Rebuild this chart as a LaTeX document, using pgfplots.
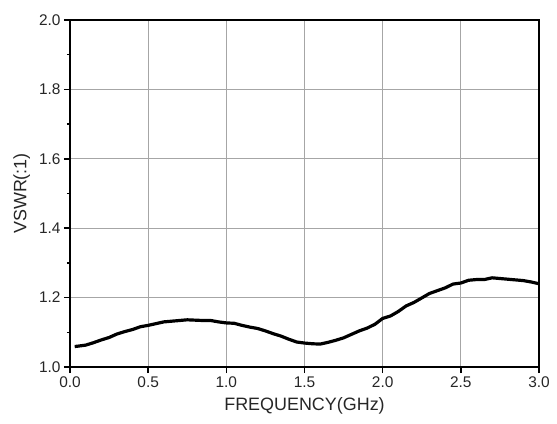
\documentclass[border=0pt]{standalone}
\usepackage{fontspec}
\setmainfont{Liberation Sans}
\usepackage{pgfplots}
\pgfplotsset{compat=1.18}

\begin{document}
\begin{tikzpicture}
\path[use as bounding box] (-70bp,-57bp) rectangle (487bp,367bp);
\begin{axis}[
  at={(0,0)}, anchor=south west,
  scale only axis,
  width=469bp, height=347bp,
  xmin=0, xmax=3, ymin=1.0, ymax=2.0,
  xtick={0,0.5,...,3.0},
  ytick={1.0,1.2,...,2.0},
  minor y tick num=1,
  tick pos=left, tick align=outside,
  major tick length=6bp, minor tick length=3bp,
  every tick/.style={black, line width=1.6pt},
  axis line style={line width=1.8pt},
  grid=major,
  grid style={gray!70, line width=0.7pt},
  xticklabel style={/pgf/number format/fixed, /pgf/number format/fixed zerofill, /pgf/number format/precision=1},
  yticklabel style={/pgf/number format/fixed, /pgf/number format/fixed zerofill, /pgf/number format/precision=1},
  /pgf/number format/assume math mode=true,
  tick label style={font=\fontsize{15.5}{17}\selectfont, color=black!85},
  label style={font=\fontsize{18}{20}\selectfont, color=black!85},
  xlabel={FREQUENCY(GHz)},
  ylabel={VSWR(:1)},
  xlabel style={yshift=-3bp},
  ylabel style={yshift=2bp},
]
\addplot[black, line width=3.2pt, line join=round] coordinates {
(0.03,1.059) (0.05,1.060) (0.10,1.063) (0.15,1.070) (0.20,1.078)
(0.25,1.085) (0.30,1.095) (0.35,1.102) (0.40,1.108) (0.45,1.116)
(0.50,1.120) (0.55,1.125) (0.60,1.130) (0.65,1.132) (0.70,1.134)
(0.75,1.136) (0.80,1.135) (0.85,1.134) (0.90,1.134) (0.95,1.130)
(1.00,1.127) (1.05,1.126) (1.10,1.120) (1.15,1.115) (1.20,1.111)
(1.25,1.104) (1.30,1.096) (1.35,1.089) (1.40,1.080) (1.45,1.072)
(1.50,1.069) (1.55,1.067) (1.60,1.066) (1.65,1.071) (1.70,1.077)
(1.75,1.084) (1.80,1.094) (1.85,1.104) (1.90,1.112) (1.95,1.123)
(2.00,1.140) (2.05,1.147) (2.10,1.160) (2.15,1.176) (2.20,1.186)
(2.25,1.199) (2.30,1.212) (2.35,1.220) (2.40,1.228) (2.45,1.239)
(2.50,1.242) (2.55,1.250) (2.60,1.252) (2.65,1.252) (2.70,1.257)
(2.75,1.255) (2.80,1.253) (2.85,1.251) (2.90,1.249) (2.95,1.245)
(3.00,1.240)
};
\end{axis}
\end{tikzpicture}
\end{document}
